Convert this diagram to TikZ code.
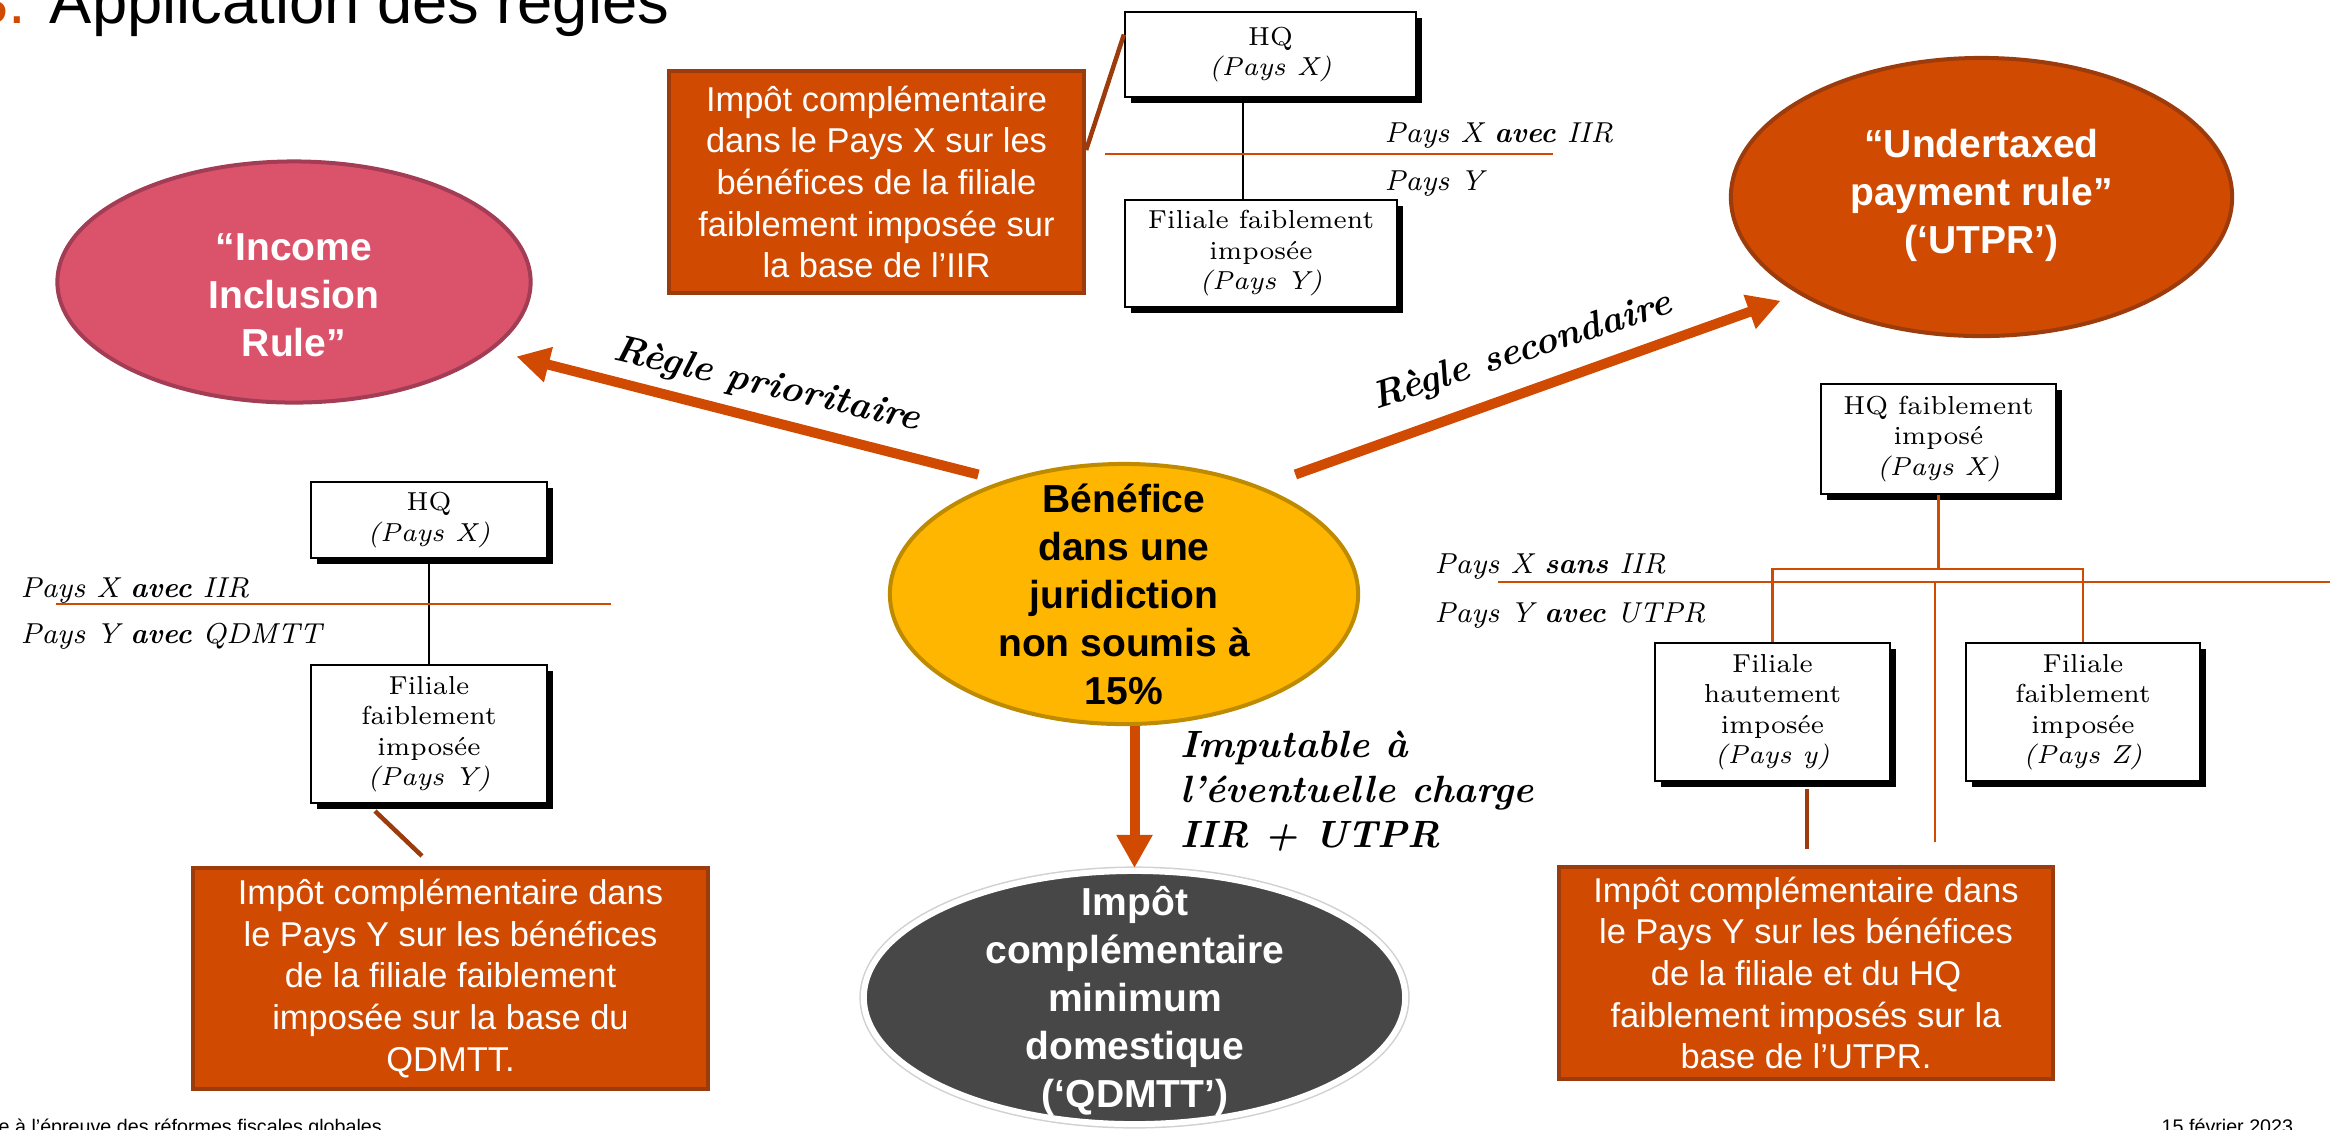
\documentclass[tikz,border=0pt]{standalone}
\usepackage{fontspec}
\setsansfont{Liberation Sans}
\usetikzlibrary{calc,shapes.geometric,arrows.meta,shadows}

\definecolor{pwcorange}{HTML}{D04A02}
\definecolor{pwcbrown}{HTML}{9C3B0B}
\definecolor{iirpink}{HTML}{DB536A}
\definecolor{iirborder}{HTML}{A33D55}
\definecolor{profityellow}{HTML}{FFB600}
\definecolor{profitborder}{HTML}{BE8A00}
\definecolor{qdgrey}{HTML}{474747}

\tikzset{
  taxbox/.style={rectangle, fill=pwcorange, draw=pwcbrown, line width=0.04cm, text=white, inner sep=0pt, align=center, font=\sffamily\fontsize{9.8}{11.86}\selectfont},
  entity/.style={rectangle, fill=white, draw=black, line width=0.02cm, inner sep=0pt, align=center, font=\fontsize{7.4}{8.68}\selectfont, drop shadow={shadow xshift=0.06cm, shadow yshift=-0.06cm, opacity=1, fill=black}},
  rulell/.style={ellipse, inner sep=0pt, line width=0.04cm},
  ruletext/.style={align=center, inner sep=0pt, font=\sffamily\bfseries\fontsize{11.1}{13.66}\selectfont},
  paysline/.style={draw=pwcorange, line width=0.025cm},
  link/.style={draw=pwcbrown, line width=0.045cm},
  owns/.style={draw=black, line width=0.02cm},
  rulearrow/.style={draw=pwcorange, line width=0.1cm, -{Triangle[length=0.33cm, width=0.34cm]}},
  country/.style={anchor=base west, inner sep=0pt, font=\itshape\fontsize{8.2}{10}\selectfont},
  ruletag/.style={inner sep=0pt, font=\bfseries\itshape\fontsize{10.8}{12.8}\selectfont},
  footer/.style={anchor=base west, inner sep=0pt, font=\sffamily\fontsize{5.6}{7}\selectfont}
}

\begin{document}
\begin{tikzpicture}[x=0.01cm, y=-0.01cm]
\useasboundingbox (0,0) rectangle (2330,1129);

\node[anchor=base west, inner sep=0pt, font=\sffamily\fontsize{18}{22}\selectfont] (title) at (-27,23) {\textcolor{pwcorange}{3.} Application des règles};
\node[footer] (foot) at (-2,1133) {e à l\symbol{"27}épreuve des réformes fiscales globales};
\node[footer] (date) at (2161,1133) {15 février 2023};

\node[rulell, fill=iirpink, draw=iirborder, minimum width=4.73cm, minimum height=2.41cm] (iir) at (294,282) {};
\node[ruletext, text=white] (iir-t) at (294,295) {“Income\\Inclusion\\Rule”};
\node[rulell, fill=pwcorange, draw=pwcbrown, minimum width=5.01cm, minimum height=2.78cm] (utpr) at (1981.5,197) {};
\node[ruletext, text=white] (utpr-t) at (1981.5,195) {“Undertaxed\\payment rule”\\(‘UTPR’)};
\node[rulell, fill=profityellow, draw=profitborder, minimum width=4.68cm, minimum height=2.60cm] (ben) at (1124,594) {};
\node[ruletext] (ben-t) at (1124,594) {Bénéfice\\dans une\\juridiction\\non soumis à\\15\%};
\node[rulell, fill=qdgrey, draw=white, line width=0.06cm, preaction={draw=black!18, line width=0.09cm}, minimum width=5.41cm, minimum height=2.53cm] (qd) at (1134.5,997.5) {};
\node[ruletext, text=white] (qd-t) at (1135,1001) {Impôt\\complémentaire\\minimum\\domestique\\(‘QDMTT’)};

\draw[rulearrow, shorten <=0.25cm, shorten >=0.25cm] (ben.137) -- (iir.-19);
\draw[rulearrow, shorten <=0.36cm, shorten >=0.19cm] (ben.38) -- (utpr.208);
\draw[rulearrow] (qd.north |- ben.south) -- (qd.north);
\node[ruletag, rotate=-13] (prio) at (767,386) {Règle prioritaire};
\node[ruletag, rotate=18] (second) at (1522,352) {Règle secondaire};
\node[ruletag, anchor=north west, align=left] (imput) at (1180,730) {Imputable à\\l’éventuelle charge\\IIR + UTPR};

\node[taxbox, minimum width=4.15cm, minimum height=2.22cm] (iirtax) at (876.5,182) {Impôt complémentaire\\dans le Pays X sur les\\bénéfices de la filiale\\faiblement imposée sur\\la base de l’IIR};
\node[entity, minimum width=2.91cm, minimum height=0.85cm] (hqa) at (1270.5,54.5) {HQ\\\textit{(Pays X)}};
\node[entity, minimum width=2.72cm, minimum height=1.07cm] (fila) at (1261,253.5) {Filiale faiblement\\imposée\\\textit{(Pays Y)}};
\draw[owns] ([xshift=-0.275cm]hqa.south) -- ([xshift=-0.275cm]hqa.south |- fila.north);
\draw[link] ([yshift=0.32cm]iirtax.east) -- ([yshift=0.2cm]hqa.west);
\draw[paysline] (1105,154) -- (1553,154);
\node[country] (pxa) at (1384,142) {Pays X \textbf{avec} IIR};
\node[country] (pya) at (1384,190) {Pays Y};

\node[entity, minimum width=2.36cm, minimum height=0.76cm] (hqb) at (429,520) {HQ\\\textit{(Pays X)}};
\node[entity, minimum width=2.36cm, minimum height=1.38cm] (filb) at (429,734) {Filiale\\faiblement\\imposée\\\textit{(Pays Y)}};
\draw[owns] (hqb) -- (filb);
\draw[paysline] (56,604) -- (611,604);
\node[country] (pxb) at (20,597) {Pays X \textbf{avec} IIR};
\node[country] (pyb) at (20,643) {Pays Y \textbf{avec} QDMTT};
\node[taxbox, minimum width=5.15cm, minimum height=2.21cm] (qdtax) at (450.5,978.5) {Impôt complémentaire dans\\le Pays Y sur les bénéfices\\de la filiale faiblement\\imposée sur la base du\\QDMTT.};
\draw[link] ([xshift=-0.54cm, yshift=-0.07cm]filb.south) -- ([xshift=-0.285cm, yshift=0.1cm]qdtax.north);

\node[entity, minimum width=2.35cm, minimum height=1.10cm] (hqc) at (1938.5,439) {HQ faiblement\\imposé\\\textit{(Pays X)}};
\node[entity, minimum width=2.35cm, minimum height=1.38cm] (filc) at (1772.5,712) {Filiale\\hautement\\imposée\\\textit{(Pays y)}};
\node[entity, minimum width=2.34cm, minimum height=1.38cm] (fild) at (2083,712) {Filiale\\faiblement\\imposée\\\textit{(Pays Z)}};
\coordinate (split) at ($(hqc.south)+(0,74)$);
\draw[paysline] (hqc.south) -- (split) -| (filc.north);
\draw[paysline] (split) -| (fild.north);
\draw[paysline] (1498,582) -- (2330,582);
\node[country] (pxc) at (1434,573) {Pays X \textbf{sans} IIR};
\node[country] (pyc) at (1434,622) {Pays Y \textbf{avec} UTPR};
\node[taxbox, minimum width=4.94cm, minimum height=2.12cm] (utax) at (1806,973) {Impôt complémentaire dans\\le Pays Y sur les bénéfices\\de la filiale et du HQ\\faiblement imposés sur la\\base de l\symbol{"27}UTPR.};
\coordinate (cut) at (1935,582);
\draw[paysline] (cut) -- ++(0,260);
\draw[link] ([xshift=0.345cm, yshift=-0.07cm]filc.south) -- ++(0,60);
\end{tikzpicture}
\end{document}
